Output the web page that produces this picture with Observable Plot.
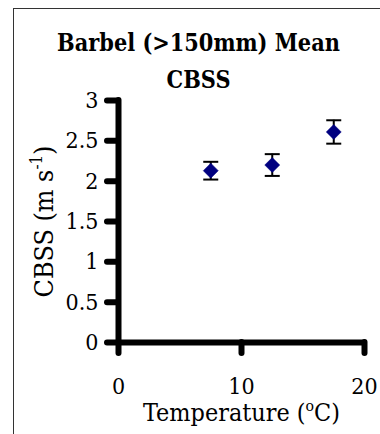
<!DOCTYPE html>
<html><head><meta charset="utf-8">
<script src="https://cdn.jsdelivr.net/npm/d3@7"></script>
<script src="https://cdn.jsdelivr.net/npm/@observablehq/plot@0.6"></script>
<style>
html,body{margin:0;padding:0;background:#fff;overflow:hidden;}
#wrap{width:380px;height:434px;overflow:hidden;background:#fff;}
#wrap svg{display:block;}
</style></head><body><div id="wrap"></div>
<script>
const temperature = [7.5, 12.5, 17.5];
const meanCBSS = [2.13, 2.20, 2.61];
const errorCBSS = [0.11, 0.135, 0.145];
const xTicks = [0, 10, 20];
const yTicks = [0, 0.5, 1, 1.5, 2, 2.5, 3];
const titleLines = ["Barbel (>150mm) Mean", "CBSS"];
const xLabel = ["Temperature (", "o", "C)"];
const yLabel = ["CBSS (m s", "-1", ")"];

const data = temperature.map((t, i) => ({t, m: meanCBSS[i], lo: meanCBSS[i] - errorCBSS[i], hi: meanCBSS[i] + errorCBSS[i]}));

const capSymbol = {draw(ctx, size) {const r = Math.sqrt(size / Math.PI); ctx.moveTo(-r, 0); ctx.lineTo(r, 0);}};
const diamondSymbol = {draw(ctx, size) {const r = Math.sqrt(size / Math.PI); ctx.moveTo(0, -r); ctx.lineTo(r, 0); ctx.lineTo(0, r); ctx.lineTo(-r, 0); ctx.closePath();}};

const font = "'DejaVu Serif Condensed', 'DejaVu Serif', serif";

const chart = Plot.plot({
  width: 380,
  height: 434,
  marginLeft: 118,
  marginRight: 16,
  marginTop: 100,
  marginBottom: 92,
  style: {fontFamily: font, fontSize: "23px", background: "white", color: "black"},
  x: {domain: [0, 20]},
  y: {domain: [0, 3]},
  marks: [
    Plot.axisY({ticks: yTicks, tickFormat: d => String(d), tickSize: 11, tickPadding: 9, strokeWidth: 6, strokeLinecap: "round", fontSize: 23, label: null}),
    Plot.axisX({ticks: xTicks, tickFormat: d => String(d), tickSize: 11, tickPadding: 24, strokeWidth: 6, strokeLinecap: "round", fontSize: 23, label: null}),
    Plot.ruleX([0], {y1: 0, y2: 3, strokeWidth: 6, strokeLinecap: "round"}),
    Plot.ruleY([0], {x1: 0, x2: 20, strokeWidth: 6, strokeLinecap: "round"}),
    Plot.ruleX(data, {x: "t", y1: "lo", y2: "hi", stroke: "black", strokeWidth: 2}),
    Plot.dot(data, {x: "t", y: "hi", symbol: capSymbol, r: 7.5, stroke: "black", strokeWidth: 2, fill: "none"}),
    Plot.dot(data, {x: "t", y: "lo", symbol: capSymbol, r: 7.5, stroke: "black", strokeWidth: 2, fill: "none"}),
    Plot.dot(data, {x: "t", y: "m", symbol: diamondSymbol, r: 7.5, fill: "#000080", stroke: "#000080", strokeWidth: 0.5}),
    Plot.text([titleLines[0]], {frameAnchor: "top", textAnchor: "middle", lineAnchor: "bottom", dx: -43, dy: -49.3, fontSize: 22, fontWeight: "bold", fill: "black", className: "title1"}),
    Plot.text([titleLines[1]], {frameAnchor: "top", textAnchor: "middle", lineAnchor: "bottom", dx: -43, dy: -12.7, fontSize: 22, fontWeight: "bold", fill: "black", className: "title2"}),
    Plot.text([xLabel.join("")], {frameAnchor: "bottom", textAnchor: "middle", lineAnchor: "bottom", dy: 78, fontSize: 22, fill: "black", className: "xlab"}),
    Plot.text([yLabel.join("")], {frameAnchor: "left", textAnchor: "middle", lineAnchor: "bottom", dx: -66, rotate: -90, fontSize: 22, fill: "black", className: "ylab"})
  ]
});

const svg = d3.select(chart);

function superscript(sel, parts) {
  const t = sel.select("text");
  t.text(null);
  t.append("tspan").text(parts[0]);
  t.append("tspan").attr("class", "sup").text(parts[1]);
  t.append("tspan").attr("class", "after").text(parts[2]);
  return t;
}
const xText = superscript(svg.select("g.xlab"), xLabel);
const yText = superscript(svg.select("g.ylab"), yLabel);

function setSize(t, fs) {
  t.style("font-size", fs + "px");
  t.select("tspan.sup").style("font-size", (fs * 0.63) + "px").attr("dy", -0.4 * fs);
  t.select("tspan.after").attr("dy", 0.4 * fs);
}

// outer chart-area border (left and top edges visible in the reference crop)
svg.append("path").attr("d", "M13.5,434V8.5").attr("fill", "none").attr("stroke", "#333").attr("stroke-width", 1);
svg.append("path").attr("d", "M13,8.5H380").attr("fill", "none").attr("stroke", "#333").attr("stroke-width", 1);

document.getElementById("wrap").appendChild(chart);

// fit the text widths to the reference's measured text lengths
function fit(t, target, isSup) {
  const fs0 = 22;
  if (isSup) setSize(t, fs0); else t.style("font-size", fs0 + "px");
  const w = t.node().getComputedTextLength();
  const fs = fs0 * target / w;
  if (isSup) setSize(t, fs); else t.style("font-size", fs + "px");
  return fs;
}
const t1 = svg.select("g.title1 text");
const tfs = fit(t1, 283, false);
svg.select("g.title2 text").style("font-size", tfs + "px");
fit(xText, 197, true);
fit(yText, 152, true);
</script>
</body></html>
